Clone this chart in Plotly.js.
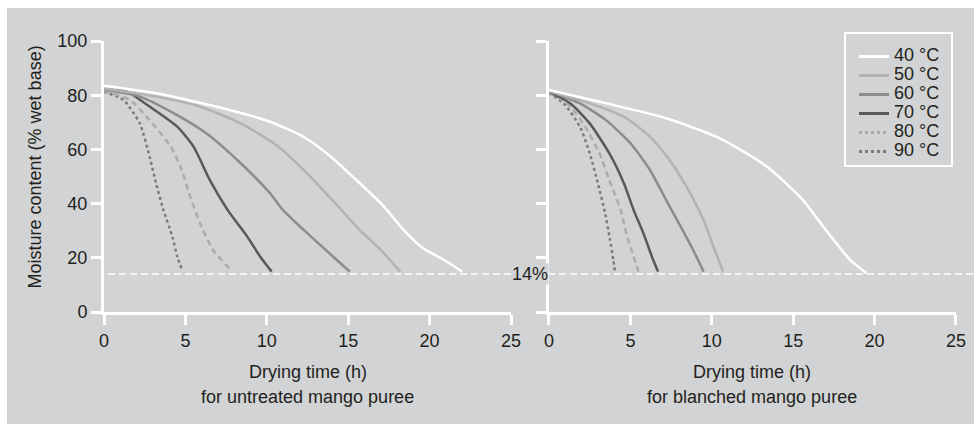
<!DOCTYPE html>
<html>
<head>
<meta charset="utf-8">
<script src="https://cdn.plot.ly/plotly-3.0.1.min.js"></script>
<style>
html,body{margin:0;padding:0;background:#ffffff;}
#chart{position:absolute;left:7px;top:8px;width:967px;height:416px;}
</style>
</head>
<body>
<div id="chart"></div>
<script>
// Series names
const seriesNames = ["40 °C", "50 °C", "60 °C", "70 °C", "80 °C", "90 °C"];

// Untreated mango puree (left panel)
const untreated40X = [0, 3.2, 7.3, 10.2, 12.3, 13.9, 15.5, 17.2, 18.4, 19.6, 20.9, 22.0];
const untreated40Y = [83.5, 80.7, 75.2, 70.2, 64.5, 57.5, 48.7, 38.9, 30.3, 23.5, 19.2, 14.9];
const untreated50X = [0, 3.2, 5.9, 8.4, 10.6, 12.5, 14.3, 15.7, 17.0, 18.2];
const untreated50Y = [82.5, 79.5, 75.8, 69.6, 61.5, 51.0, 39.5, 30.3, 22.9, 14.9];
const untreated60X = [0, 2.2, 4.3, 6.3, 8.4, 10.2, 11.0, 12.5, 14.3, 15.1];
const untreated60Y = [82.1, 79.5, 73.3, 65.9, 54.9, 43.8, 37.6, 29.0, 19.2, 14.9];
const untreated70X = [0, 1.4, 2.8, 4.5, 5.5, 6.5, 7.6, 8.8, 9.6, 10.3];
const untreated70Y = [82.1, 81.3, 75.8, 68.4, 61.0, 48.7, 37.6, 27.8, 20.4, 14.9];
const untreated80X = [0, 1.6, 2.8, 4.1, 4.7, 5.3, 5.9, 6.7, 7.8];
const untreated80Y = [81.6, 78.2, 70.8, 61.0, 53.6, 42.5, 32.7, 22.9, 15.5];
const untreated90X = [0, 1.2, 2.2, 2.8, 3.2, 3.65, 4.2, 4.5, 4.8];
const untreated90Y = [81.3, 78.2, 69.6, 57.3, 47.5, 37.6, 27.8, 20.4, 15.5];

// Blanched mango puree (right panel)
const blanched40X = [0, 3.5, 7.2, 10.5, 13.4, 15.6, 17.0, 18.5, 19.5];
const blanched40Y = [81.9, 77.0, 71.5, 64.1, 53.6, 41.3, 30.3, 19.2, 14.3];
const blanched50X = [0, 2.5, 4.6, 6.2, 7.4, 8.45, 9.5, 10.1, 10.7];
const blanched50Y = [81.5, 77.0, 72.1, 64.7, 56.1, 46.2, 33.9, 24.1, 14.9];
const blanched60X = [0, 1.9, 3.5, 5.0, 6.2, 7.2, 8.2, 8.85, 9.5];
const blanched60Y = [81.5, 77.0, 70.8, 62.3, 52.4, 41.3, 30.3, 22.9, 14.9];
const blanched70X = [0, 1.3, 2.5, 3.7, 4.6, 5.2, 5.8, 6.4, 6.7];
const blanched70Y = [81.3, 77.0, 69.6, 58.6, 47.5, 37.6, 29.0, 19.2, 14.9];
const blanched80X = [0, 1.1, 2.1, 3.1, 3.7, 4.4, 4.8, 5.2, 5.5];
const blanched80Y = [81.0, 77.0, 69.6, 58.6, 48.7, 37.6, 27.8, 20.4, 14.9];
const blanched90X = [0, 0.9, 1.9, 2.5, 3.0, 3.45, 3.75, 3.95, 4.05];
const blanched90Y = [80.8, 77.0, 68.4, 58.6, 47.5, 36.4, 26.6, 19.2, 14.9];

// Axis ticks and reference level
const xTicks = [0, 5, 10, 15, 20, 25];
const yTicks = [0, 20, 40, 60, 80, 100];
const targetMoisture = 14;
const targetLabel = "14%";
const yTitle = "Moisture content (% wet base)";
const xTitleLine1 = "Drying time (h)";
const xTitleLeft2 = "for untreated mango puree";
const xTitleRight2 = "for blanched mango puree";

const BG = "#d1d3d4";
const TXT = "#231f20";
const FS = 18;
const colors = ["#ffffff", "#b2b3b5", "#8b8c8e", "#58595b", "#abacae", "#7a7b7d"];
const plotDash = ["solid", "solid", "solid", "solid", "6px,4px", "dot"];
const legendDash = ["solid", "solid", "solid", "solid", "dot", "dot"];

const leftX = [untreated40X, untreated50X, untreated60X, untreated70X, untreated80X, untreated90X];
const leftY = [untreated40Y, untreated50Y, untreated60Y, untreated70Y, untreated80Y, untreated90Y];
const rightX = [blanched40X, blanched50X, blanched60X, blanched70X, blanched80X, blanched90X];
const rightY = [blanched40Y, blanched50Y, blanched60Y, blanched70Y, blanched80Y, blanched90Y];

const traces = [];
for (let i = seriesNames.length - 1; i >= 0; i--) {
  traces.push({x: leftX[i], y: leftY[i], xaxis: "x", yaxis: "y", mode: "lines", showlegend: false,
    line: {color: colors[i], width: 2.5, dash: plotDash[i], shape: "spline", smoothing: 0.6}, hoverinfo: "skip"});
  traces.push({x: rightX[i], y: rightY[i], xaxis: "x2", yaxis: "y2", mode: "lines", showlegend: false,
    line: {color: colors[i], width: 2.5, dash: plotDash[i], shape: "spline", smoothing: 0.6}, hoverinfo: "skip"});
}
for (let i = 0; i < seriesNames.length; i++) {
  traces.push({x: [null], y: [null], xaxis: "x2", yaxis: "y2", mode: "lines",
    name: '<span style="font-size:' + FS + 'px">' + seriesNames[i] + '</span>',
    line: {color: colors[i], width: 3, dash: legendDash[i]}});
}

const axisCommon = {
  range: [0, 25], tickvals: xTicks, ticks: "outside", ticklen: 10, tickwidth: 3, tickcolor: "#ffffff",
  showline: true, linewidth: 3, linecolor: "#ffffff", showgrid: false, zeroline: false,
  tickfont: {size: FS, color: TXT}, fixedrange: true
};
const yCommon = {
  range: [0, 100], tickvals: yTicks, ticks: "outside", ticklen: 10, tickwidth: 3, tickcolor: "#ffffff",
  showline: true, linewidth: 3, linecolor: "#ffffff", showgrid: false, zeroline: false,
  tickfont: {size: FS, color: TXT}, fixedrange: true
};

const layout = {
  width: 967, height: 416,
  paper_bgcolor: BG, plot_bgcolor: BG,
  font: {family: "Liberation Sans, Arial, sans-serif", color: TXT, size: FS},
  margin: {l: 97, r: 18, t: 33, b: 112},
  showlegend: true,
  legend: {x: 0.8803, y: 0.9963, xanchor: "left", yanchor: "top", bgcolor: "rgba(0,0,0,0)",
    borderwidth: 0, font: {size: 12, color: TXT}},
  xaxis: Object.assign({}, axisCommon, {domain: [0, 0.4777], anchor: "y"}),
  xaxis2: Object.assign({}, axisCommon, {domain: [0.5223, 1], anchor: "y2"}),
  yaxis: Object.assign({}, yCommon, {anchor: "x"}),
  yaxis2: Object.assign({}, yCommon, {anchor: "x2", showticklabels: false}),
  shapes: [
    {type: "line", xref: "paper", yref: "y", x0: 0.0047, x1: 1.02, y0: targetMoisture, y1: targetMoisture,
      line: {color: "#ffffff", width: 1.5, dash: "7px,4px"}, layer: "above"},
    {type: "rect", xref: "paper", yref: "paper", x0: 0.8697, x1: 0.9953, y0: 0.5387, y1: 1.0295,
      line: {color: "#ffffff", width: 2}, fillcolor: "rgba(0,0,0,0)", layer: "above"}
  ],
  annotations: [
    {text: targetLabel, xref: "paper", yref: "y", x: 0.5, y: targetMoisture, showarrow: false,
      xanchor: "center", yanchor: "middle", bgcolor: BG, font: {size: FS, color: TXT}, borderpad: 0},
    {text: yTitle, xref: "paper", yref: "paper", x: -0.081, y: 0.537, textangle: -90, showarrow: false,
      xanchor: "center", yanchor: "middle", font: {size: FS, color: TXT}},
    {text: xTitleLine1, xref: "x", yref: "paper", x: 12.5, y: -0.2214, showarrow: false,
      xanchor: "center", yanchor: "middle", font: {size: FS, color: TXT}},
    {text: xTitleLeft2, xref: "x", yref: "paper", x: 12.5, y: -0.3137, showarrow: false,
      xanchor: "center", yanchor: "middle", font: {size: FS, color: TXT}},
    {text: xTitleLine1, xref: "x2", yref: "paper", x: 12.5, y: -0.2214, showarrow: false,
      xanchor: "center", yanchor: "middle", font: {size: FS, color: TXT}},
    {text: xTitleRight2, xref: "x2", yref: "paper", x: 12.5, y: -0.3137, showarrow: false,
      xanchor: "center", yanchor: "middle", font: {size: FS, color: TXT}}
  ]
};

Plotly.newPlot("chart", traces, layout, {displayModeBar: false, staticPlot: true});
</script>
</body>
</html>
